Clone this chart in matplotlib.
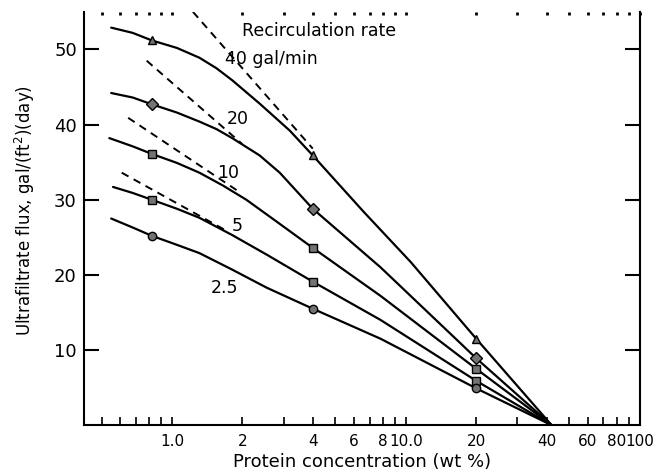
"""Ultrafiltrate flux vs protein concentration at several recirculation rates."""

import matplotlib
matplotlib.use("Agg")
import matplotlib.pyplot as plt
from matplotlib.ticker import FixedLocator, FixedFormatter, NullFormatter

# solid curves (wt %, gal/(ft2)(day))
conc_40 = [0.55, 0.68, 0.82, 1.05, 1.31, 1.55, 1.81, 2.37, 3.19, 4.0, 6.6, 10.5, 20, 42]
flux_40 = [52.9, 52.2, 51.2, 50.2, 48.9, 47.5, 45.9, 42.8, 39.2, 35.9, 28.4, 21.7, 11.5, 0]
conc_20 = [0.55, 0.68, 0.82, 1.05, 1.31, 1.55, 1.81, 2.37, 2.89, 4.0, 7.8, 20, 42]
flux_20 = [44.2, 43.6, 42.7, 41.6, 40.4, 39.4, 38.2, 35.9, 33.6, 28.8, 21.0, 8.9, 0]
conc_10 = [0.54, 0.68, 0.82, 1.05, 1.31, 1.65, 2.08, 2.8, 4.0, 7.8, 20, 42]
flux_10 = [38.2, 37.1, 36.1, 34.9, 33.6, 31.9, 30.0, 27.1, 23.6, 17.2, 7.5, 0]
conc_5 = [0.56, 0.68, 0.82, 1.05, 1.31, 1.81, 2.54, 4.0, 7.8, 20, 42]
flux_5 = [31.7, 30.9, 30.0, 28.8, 27.6, 25.3, 22.7, 19.1, 14.0, 5.9, 0]
conc_25 = [0.55, 0.68, 0.82, 1.05, 1.31, 1.81, 2.54, 4.0, 7.8, 20, 42]
flux_25 = [27.5, 26.3, 25.2, 24.0, 22.9, 20.7, 18.3, 15.5, 11.5, 4.9, 0]

# measured points
marker_conc = [0.82, 4.0, 20]
marker_40 = [51.2, 35.9, 11.5]
marker_20 = [42.7, 28.8, 8.9]
marker_10 = [36.1, 23.6, 7.5]
marker_5 = [30.0, 19.1, 5.9]
marker_25 = [25.2, 15.5, 4.9]

# dashed asymptotes
dash_40_conc, dash_40_flux = [1.23, 4.0], [55, 36.8]
dash_20_conc, dash_20_flux = [0.78, 2.0], [48.5, 37.4]
dash_10_conc, dash_10_flux = [0.65, 1.95], [40.9, 31.0]
dash_5_conc, dash_5_flux = [0.61, 1.75], [33.6, 25.7]

x_major = [1, 2, 4, 6, 8, 10, 20, 40, 60, 80, 100]
x_labels = ["1.0", "2", "4", "6", "8", "10.0", "20", "40", "60", "80", "100"]
x_minor = [0.5, 0.6, 0.7, 0.8, 0.9, 3, 5, 7, 9, 30, 50, 70, 90]
y_major = [10, 20, 30, 40, 50]

fig = plt.figure(figsize=(6.65, 4.74), dpi=100)
ax = fig.add_axes([0.126, 0.103, 0.836, 0.872])
ax.set_xscale("log")
ax.set_xlim(0.42, 100)
ax.set_ylim(0, 55)

curves = [
    (conc_40, flux_40, marker_40, "^"),
    (conc_20, flux_20, marker_20, "D"),
    (conc_10, flux_10, marker_10, "s"),
    (conc_5, flux_5, marker_5, "s"),
    (conc_25, flux_25, marker_25, "o"),
]
for xs, ys, ms, mk in curves:
    ax.plot(xs, ys, color="black", lw=1.6, solid_capstyle="round",
            solid_joinstyle="round")
    ax.plot(marker_conc, ms, linestyle="none", marker=mk, ms=6,
            mfc="0.45", mec="black", mew=1.0)

for xs, ys in [(dash_40_conc, dash_40_flux), (dash_20_conc, dash_20_flux),
               (dash_10_conc, dash_10_flux), (dash_5_conc, dash_5_flux)]:
    ax.plot(xs, ys, color="black", lw=1.4, linestyle=(0, (4, 3)))

txt = dict(fontsize=12.5, color="black", va="center", ha="left")
ax.text(2.0, 52.4, "Recirculation rate", **txt)
ax.text(1.69, 48.7, "40 gal/min", **txt)
ax.text(1.71, 40.8, "20", **txt)
ax.text(1.56, 33.5, "10", **txt)
ax.text(1.8, 26.5, "5", **txt)
ax.text(1.47, 18.3, "2.5", **txt)

ax.xaxis.set_major_locator(FixedLocator(x_major))
ax.xaxis.set_major_formatter(FixedFormatter(x_labels))
ax.xaxis.set_minor_locator(FixedLocator(x_minor))
ax.xaxis.set_minor_formatter(NullFormatter())
ax.set_yticks(y_major)
ax.yaxis.set_minor_locator(FixedLocator([]))

ax.spines["top"].set_visible(False)
for s in ["left", "right", "bottom"]:
    ax.spines[s].set_linewidth(1.5)

# bottom ticks inward; top edge only shows short dot-like marks
ax.tick_params(axis="x", which="both", direction="in", length=6, width=1.2,
               bottom=True, top=False, labelsize=11, pad=6)
ax.tick_params(axis="y", which="major", direction="in", length=11, width=1.5,
               right=True, labelsize=13, pad=5)
top = ax.secondary_xaxis("top")
top.xaxis.set_major_locator(FixedLocator(x_major + x_minor))
top.xaxis.set_major_formatter(NullFormatter())
top.xaxis.set_minor_locator(FixedLocator([]))
top.spines["top"].set_visible(False)
top.tick_params(axis="x", which="both", direction="in", length=2.5, width=2)

ax.set_xlabel("Protein concentration (wt %)", fontsize=13, labelpad=3)
ax.set_ylabel("Ultrafiltrate flux, gal/(ft$^2$)(day)", fontsize=12)
ax.yaxis.set_label_coords(-0.085, 0.52)

fig.savefig("out.png", dpi=100)
